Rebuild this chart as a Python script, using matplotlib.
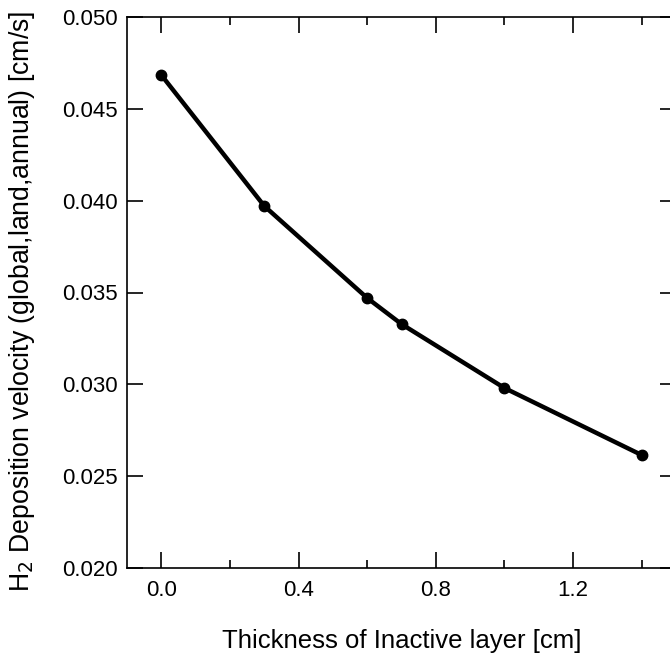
import matplotlib.pyplot as plt
from matplotlib.ticker import MultipleLocator

# épaisseur de la couche inactive (cm) et vitesse de dépôt H2 (cm/s)
epaisseur = [0.0, 0.3, 0.6, 0.7, 1.0, 1.4]
vitesse = [0.04684, 0.03971, 0.03470, 0.03328, 0.02980, 0.02615]

plt.rcParams['font.family'] = ['Liberation Sans', 'DejaVu Sans']

fig = plt.figure(figsize=(6.70, 6.57), dpi=100)
# l'axe droit sort légèrement du cadre de l'image, comme dans l'original
ax = fig.add_axes([127 / 670, 1 - 568 / 657, (676 - 127) / 670, (568 - 17) / 657])

ax.plot(epaisseur, vitesse, color='black', linewidth=3.2, marker='o', markersize=7.5)

ax.set_xlim(-0.1, 1.5)
ax.set_ylim(0.020, 0.050)
ax.xaxis.set_major_locator(MultipleLocator(0.4))
ax.xaxis.set_minor_locator(MultipleLocator(0.2))
ax.yaxis.set_major_locator(MultipleLocator(0.005))
ax.xaxis.set_major_formatter(plt.FuncFormatter(lambda v, p: f"{v:.1f}"))
ax.yaxis.set_major_formatter(plt.FuncFormatter(lambda v, p: f"{v:.3f}"))

ax.tick_params(which='both', direction='in', top=True, right=True, labelsize=16, width=1.2)
ax.tick_params(axis='x', which='major', length=11.5, pad=9)
ax.tick_params(axis='y', which='major', length=11.5, pad=7)
ax.tick_params(which='minor', length=5.8)
for s in ax.spines.values():
    s.set_linewidth(1.2)

ax.set_xlabel('Thickness of Inactive layer [cm]', fontsize=18.5, labelpad=20)

# titre de l'axe y placé à la main (un peu plus bas que le centre des axes)
fig.text(22 / 670, 1 - 301 / 657, 'H$_2$ Deposition velocity (global,land,annual) [cm/s]',
         rotation=90, ha='center', va='center', fontsize=19.2)

plt.savefig('out.png', dpi=100)
